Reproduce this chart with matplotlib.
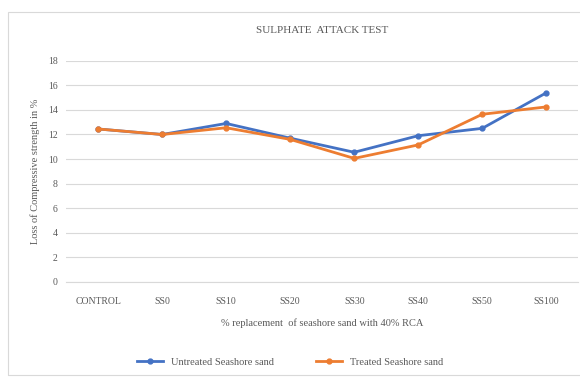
import matplotlib.pyplot as plt
from matplotlib.patches import Rectangle

categories = ["CONTROL", "SS0", "SS10", "SS20", "SS30", "SS40", "SS50", "SS100"]
untreated = [12.45, 12.0, 12.9, 11.7, 10.55, 11.9, 12.5, 15.4]
treated = [12.45, 12.0, 12.55, 11.6, 10.05, 11.15, 13.65, 14.25]
y_ticks = [0, 2, 4, 6, 8, 10, 12, 14, 16, 18]

plt.rcParams['font.family'] = ['Liberation Serif', 'DejaVu Serif']

fig = plt.figure(figsize=(5.8, 3.81), dpi=100)
# chart frame like the excel chart area
fig.patches.append(Rectangle((8 / 580, 6 / 381), 580 / 580, 363 / 381, transform=fig.transFigure,
                             fill=False, edgecolor='#d9d9d9', linewidth=0.8))

ax = fig.add_axes([0.114, 0.261, 0.883, 0.579])
x = range(len(categories))
ax.plot(x, untreated, color='#4472c4', linewidth=2, marker='o', markersize=3.5, label='Untreated Seashore sand')
ax.plot(x, treated, color='#ed7d31', linewidth=2, marker='o', markersize=3.5, label='Treated Seashore sand')

ax.set_xlim(-0.5, len(categories) - 0.5)
ax.set_ylim(0, 18)
ax.set_yticks(y_ticks)
ax.set_xticks(list(x))
ax.set_xticklabels(categories)
ax.tick_params(colors='#595959', labelsize=7, length=0, pad=6)
ax.tick_params(axis='x', pad=11)
ax.grid(axis='y', color='#d9d9d9', linewidth=0.8)
ax.set_axisbelow(True)
for s in ['top', 'right', 'left']:
    ax.spines[s].set_visible(False)
ax.spines['bottom'].set_color('#d9d9d9')

ax.set_title("SULPHATE  ATTACK TEST", fontsize=8, color='#595959', pad=20)
ax.set_xlabel("% replacement  of seashore sand with 40% RCA", fontsize=7.5, color='#595959', labelpad=9)
ax.set_ylabel("Loss of Compressive strength in %", fontsize=7.5, color='#595959', labelpad=6)

fig.legend(loc='center', bbox_to_anchor=(0.5, 0.05), ncol=2, frameon=False, fontsize=7.5,
           labelcolor='#595959', columnspacing=4, handlelength=2.5)

plt.savefig('out.png', dpi=100)
